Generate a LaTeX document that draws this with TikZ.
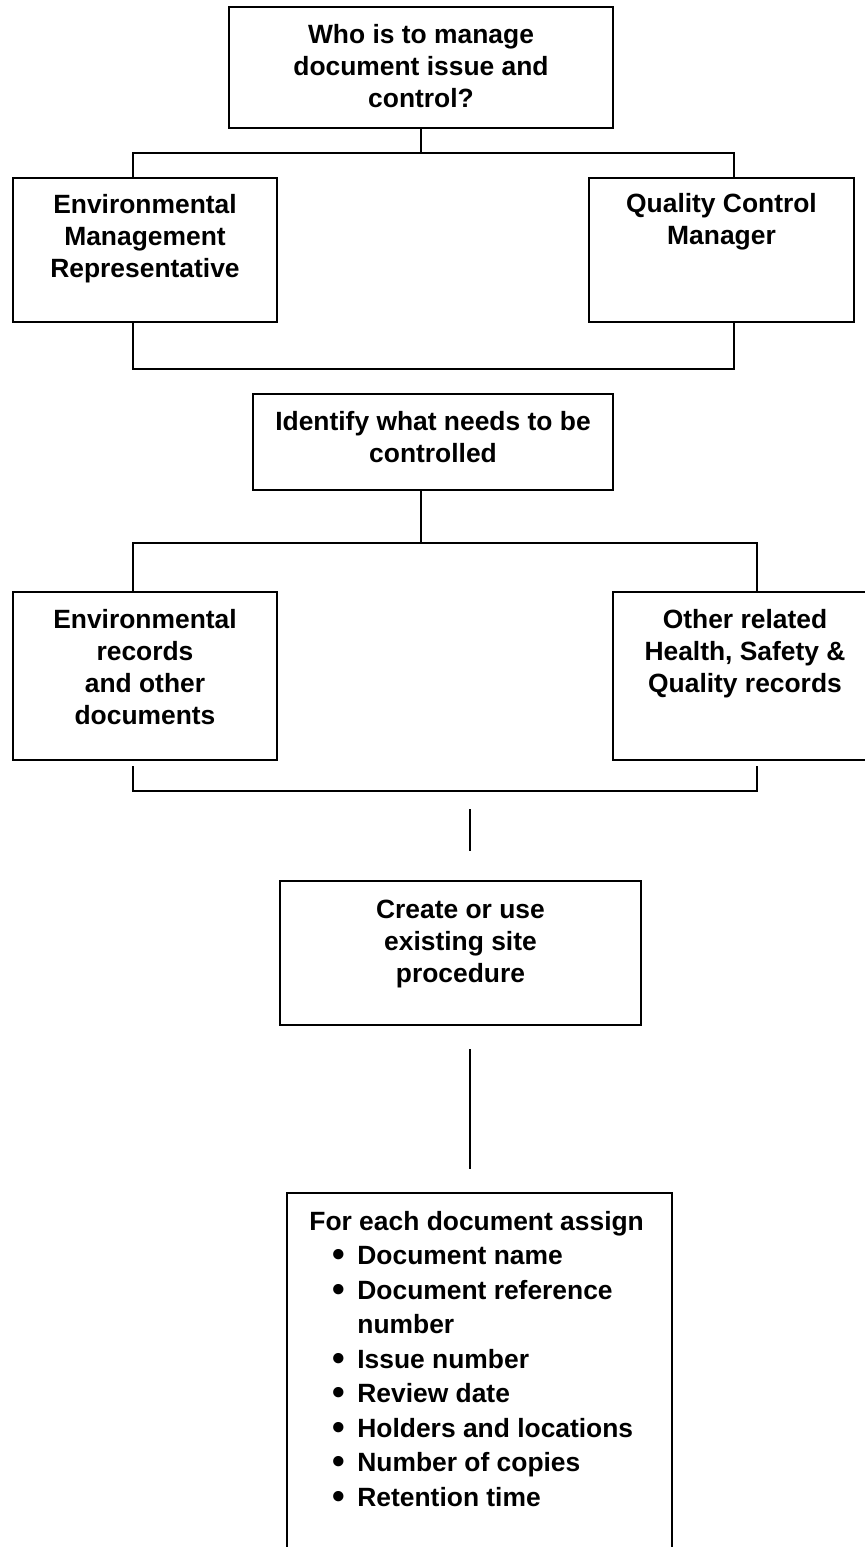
\documentclass[tikz,border=0pt]{standalone}
\usepackage{fontspec}
\setmainfont{Liberation Sans}
\newcommand{\bigbul}{\hspace*{11.5pt}\makebox[12.5pt][l]{\raisebox{-1.1pt}{\fontsize{18}{18}\selectfont •}}}
\begin{document}
\begin{tikzpicture}[x=0.5pt,y=-0.5pt,
  box/.style={draw, line width=0.8pt, inner sep=0pt, outer sep=0pt, anchor=north west},
  txt/.style={font=\fontsize{13.2}{16}\selectfont\bfseries, align=center, anchor=base, inner sep=0pt},
  conn/.style={line width=0.8pt}]
\useasboundingbox (0,0) rectangle (865,1547);
\clip (0,0) rectangle (865,1547);
\fill[white] (0,0) rectangle (865,1547);
% boxes
\node[box, minimum width=192pt, minimum height=60.5pt] (top) at (229,7) {};
\node[box, minimum width=132pt, minimum height=72pt] (emr) at (13,178) {};
\node[box, minimum width=132.5pt, minimum height=72pt] (qcm) at (589,178) {};
\node[box, minimum width=180pt, minimum height=48pt] (ident) at (253,394) {};
\node[box, minimum width=132pt, minimum height=84pt] (envrec) at (13,592) {};
\node[box, minimum width=132pt, minimum height=84pt] (other) at (613,592) {};
\node[box, minimum width=180.5pt, minimum height=72pt] (create) at (280,881) {};
\node[box, minimum width=192.5pt, minimum height=200pt] (assign) at (287,1193) {};
% texts (anchored at the baseline of their last line)
\node[txt] (toptxt) at (421,107) {Who is to manage\\document issue and\\control?};
\node[txt] (emrtxt) at (145,277) {Environmental\\Management\\Representative};
\node[txt] (qcmtxt) at (721.5,244) {Quality Control\\Manager};
\node[txt] (identtxt) at (433,462) {Identify what needs to be\\controlled};
\node[txt] (envrectxt) at (145,724) {Environmental\\records\\and other\\documents};
\node[txt] (othertxt) at (745,692) {Other related\\Health, Safety \&\\Quality records};
\node[txt] (createtxt) at (460.5,982) {Create or use\\existing site\\procedure};
\node[txt, align=left, anchor=base west, font=\fontsize{13.2}{17.25}\selectfont\bfseries] (assigntxt) at (309,1506)
  {For each document assign\\
   \bigbul Document name\\
   \bigbul Document reference\\
   \hspace*{24pt}number\\
   \bigbul Issue number\\
   \bigbul Review date\\
   \bigbul Holders and locations\\
   \bigbul Number of copies\\
   \bigbul Retention time};
% junction coordinates
\coordinate (j1) at (421,153);
\coordinate (a1L) at (133,153);
\coordinate (a1R) at (734,153);
\coordinate (b1L) at (133,369);
\coordinate (b1R) at (734,369);
\coordinate (j2) at (421,543);
\coordinate (a2L) at (133,543);
\coordinate (a2R) at (757,543);
\coordinate (b2Ltop) at (133,766);
\coordinate (b2Rtop) at (757,766);
\coordinate (b2L) at (133,791);
\coordinate (b2R) at (757,791);
\coordinate (s1) at (470,809);
\coordinate (s2) at (470,851);
\coordinate (s3) at (470,1049);
\coordinate (s4) at (470,1169);
% connectors
\draw[conn] (j1 |- top.south) -- (j1);
\draw[conn] (a1L |- emr.north) -- (a1L) -- (a1R) -- (a1R |- qcm.north);
\draw[conn] (b1L |- emr.south) -- (b1L) -- (b1R) -- (b1R |- qcm.south);
\draw[conn] (j2 |- ident.south) -- (j2);
\draw[conn] (a2L |- envrec.north) -- (a2L) -- (a2R) -- (a2R |- other.north);
\draw[conn] (b2Ltop) -- (b2L) -- (b2R) -- (b2Rtop);
\draw[conn] (s1) -- (s2);
\draw[conn] (s3) -- (s4);
\end{tikzpicture}
\end{document}
